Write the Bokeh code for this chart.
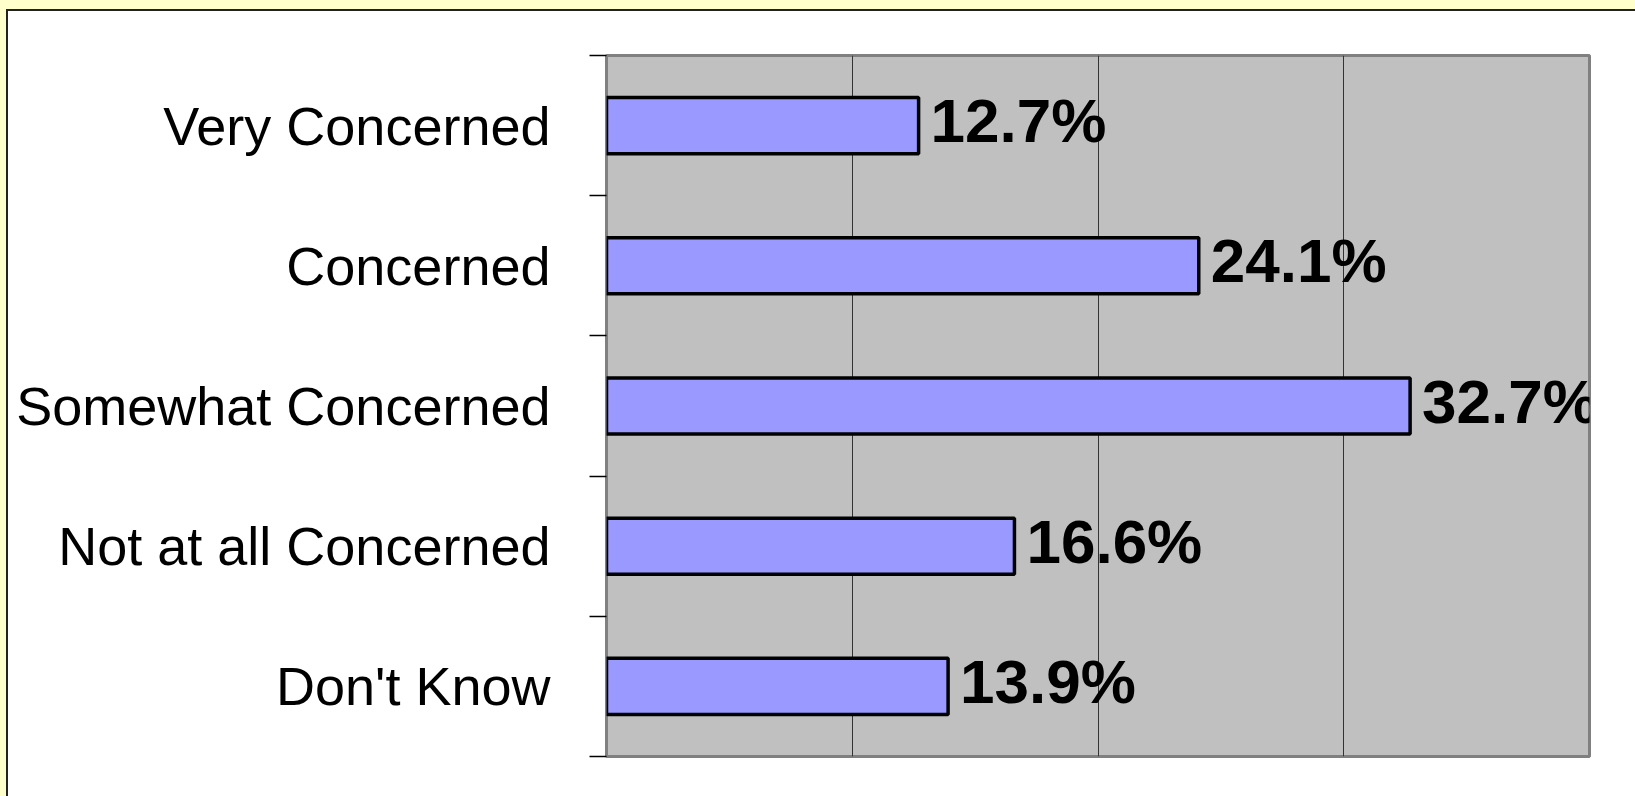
from bokeh.plotting import figure
from bokeh.models import (ColumnDataSource, Range1d, FixedTicker, LabelSet,
                          Spacer)
from bokeh.layouts import row, column
from bokeh.core.properties import value
from bokeh.embed import file_html
from bokeh.resources import INLINE

# ---- data ----
categories = ["Very Concerned", "Concerned", "Somewhat Concerned",
              "Not at all Concerned", "Don't Know"]
values = [12.7, 24.1, 32.7, 16.6, 13.9]
value_labels = ["12.7%", "24.1%", "32.7%", "16.6%", "13.9%"]
grid_ticks = [10, 20, 30]

centers = [i + 0.5 for i in range(len(categories))]
bounds = [i for i in range(len(categories) + 1)]

src = ColumnDataSource(dict(y=centers, v=values, lab=value_labels))

W, H = 1635, 796
PAD_L, PAD_T, EDGE = 6, 9, 2
PW, PH = W - PAD_L - EDGE, H - PAD_T - EDGE

p = figure(width=PW, height=PH, output_backend="svg", toolbar_location=None,
           x_range=Range1d(0, 40), y_range=Range1d(len(categories), 0),
           x_axis_location=None,
           min_border_left=606 - PAD_L - EDGE, min_border_right=46,
           min_border_top=55 - PAD_T - EDGE, min_border_bottom=40,
           background_fill_color="#C0C0C0", border_fill_color="white",
           outline_line_color="#808080", outline_line_width=3)

# grid
p.xgrid.ticker = FixedTicker(ticks=grid_ticks)
p.xgrid.grid_line_color = "#333333"
p.xgrid.grid_line_width = 1
p.ygrid.grid_line_color = None

# bars
p.hbar(y="y", left=0, right="v", height=0.40, source=src,
       fill_color="#9999FF", line_color="black", line_width=3.5)

# value labels
p.add_layout(LabelSet(x="v", y="y", text="lab", source=src, x_offset=12,
                      y_offset=5, text_baseline="middle",
                      text_font=value("Liberation Sans"),
                      text_font_style="bold", text_font_size="62px",
                      text_color="black"))

# y axis: labels at category centres, ticks at category boundaries
ax = p.yaxis[0]
ax.ticker = FixedTicker(ticks=centers, minor_ticks=bounds)
ax.major_label_overrides = {c: lab for c, lab in zip(centers, categories)}
ax.major_tick_line_color = None
ax.major_tick_out = 0
ax.major_tick_in = 0
ax.minor_tick_line_color = "black"
ax.minor_tick_line_width = 1.5
ax.minor_tick_out = 17
ax.minor_tick_in = 0
ax.axis_line_color = None
ax.major_label_standoff = 39
ax.major_label_text_font = "Liberation Sans"
ax.major_label_text_font_size = "54px"
ax.major_label_text_color = "black"

# yellow page around a dark-edged white panel
yellow = {"background-color": "#FFFFCC"}
dark = {"background-color": "#222222"}
layout = row(
    Spacer(width=PAD_L, height=H, styles=yellow),
    column(
        Spacer(width=W - PAD_L, height=PAD_T, styles=yellow),
        Spacer(width=W - PAD_L, height=EDGE, styles=dark),
        row(Spacer(width=EDGE, height=PH, styles=dark), p, spacing=0),
        spacing=0,
    ),
    spacing=0,
)

html = file_html(layout, INLINE)
open("out.html", "w").write(html)
